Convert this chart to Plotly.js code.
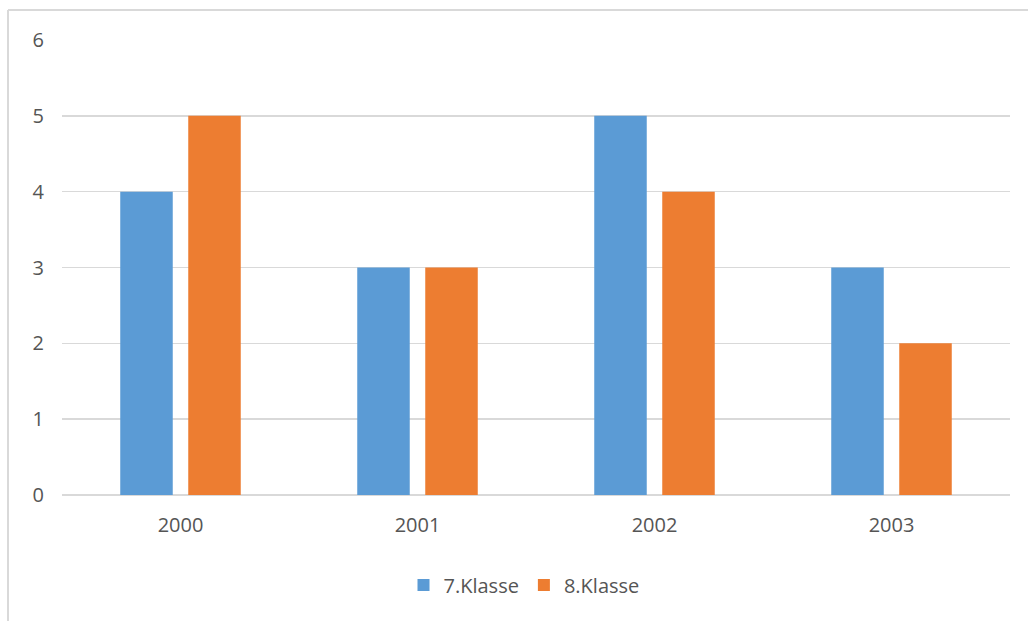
<!DOCTYPE html>
<html>
<head>
<meta charset="utf-8">
<script src="https://cdn.plot.ly/plotly-3.0.1.min.js"></script>
<style>
  html, body { margin: 0; padding: 0; background: #ffffff; }
  #chart { width: 1028px; height: 621px; }
</style>
</head>
<body>
<div id="chart"></div>
<script>
// Schuljahre und Werte je Klassenstufe
const years = ['2000', '2001', '2002', '2003'];
const klasse7 = [4, 3, 5, 3];
const klasse8 = [5, 3, 4, 2];
const seriesNames = ['7.Klasse', '8.Klasse'];
const yTicks = [0, 1, 2, 3, 4, 5, 6];

const textColor = '#555555';
const gridColor = '#d9d9d9';
const fontFamily = '"Open Sans", "Liberation Sans", sans-serif';

const traces = [
  { type: 'bar', name: seriesNames[0], x: years, y: klasse7,
    marker: { color: '#5b9bd5' }, hoverinfo: 'skip' },
  { type: 'bar', name: seriesNames[1], x: years, y: klasse8,
    marker: { color: '#ed7d31' }, hoverinfo: 'skip' }
];

// Plot area spans x 62..1010, y 40..495 in page pixels
const L = 62, R = 1010, T = 40, B = 495;
const pw = R - L, ph = B - T;
const px = v => (v - L) / pw;
const py = v => (B - v) / ph;

const layout = {
  width: 1028, height: 621,
  margin: { l: L, r: 1028 - R, t: T, b: 621 - B, pad: 0 },
  paper_bgcolor: '#ffffff', plot_bgcolor: '#ffffff',
  font: { family: fontFamily, size: 20, color: textColor },
  barmode: 'group',
  bargap: 0.426,
  bargroupgap: 0.228,
  showlegend: true,
  legend: {
    orientation: 'h', x: px(524), xanchor: 'center', y: py(585), yanchor: 'middle',
    font: { family: fontFamily, size: 20, color: textColor },
    bgcolor: 'rgba(0,0,0,0)'
  },
  xaxis: {
    type: 'category', showgrid: false, zeroline: false, showline: false,
    ticks: '', ticklabelstandoff: 16,
    tickfont: { family: fontFamily, size: 20, color: textColor }
  },
  yaxis: {
    range: [0, 6], tickvals: yTicks, ticktext: yTicks.map(String),
    showgrid: true, gridcolor: gridColor, gridwidth: 1.5,
    zeroline: true, zerolinecolor: gridColor, zerolinewidth: 2,
    showline: false, ticks: '', ticklabelstandoff: 17,
    tickfont: { family: fontFamily, size: 20, color: textColor }
  },
  shapes: [
    // thin frame around the chart area (left and top edges)
    { type: 'line', xref: 'paper', yref: 'paper',
      x0: px(8), x1: px(8), y0: py(10), y1: py(640),
      line: { color: '#d9d9d9', width: 2 } },
    { type: 'line', xref: 'paper', yref: 'paper',
      x0: px(8), x1: px(1040), y0: py(10), y1: py(10),
      line: { color: '#d9d9d9', width: 2 } }
  ]
};

Plotly.newPlot('chart', traces, layout, { displayModeBar: false, staticPlot: true });
</script>
</body>
</html>
